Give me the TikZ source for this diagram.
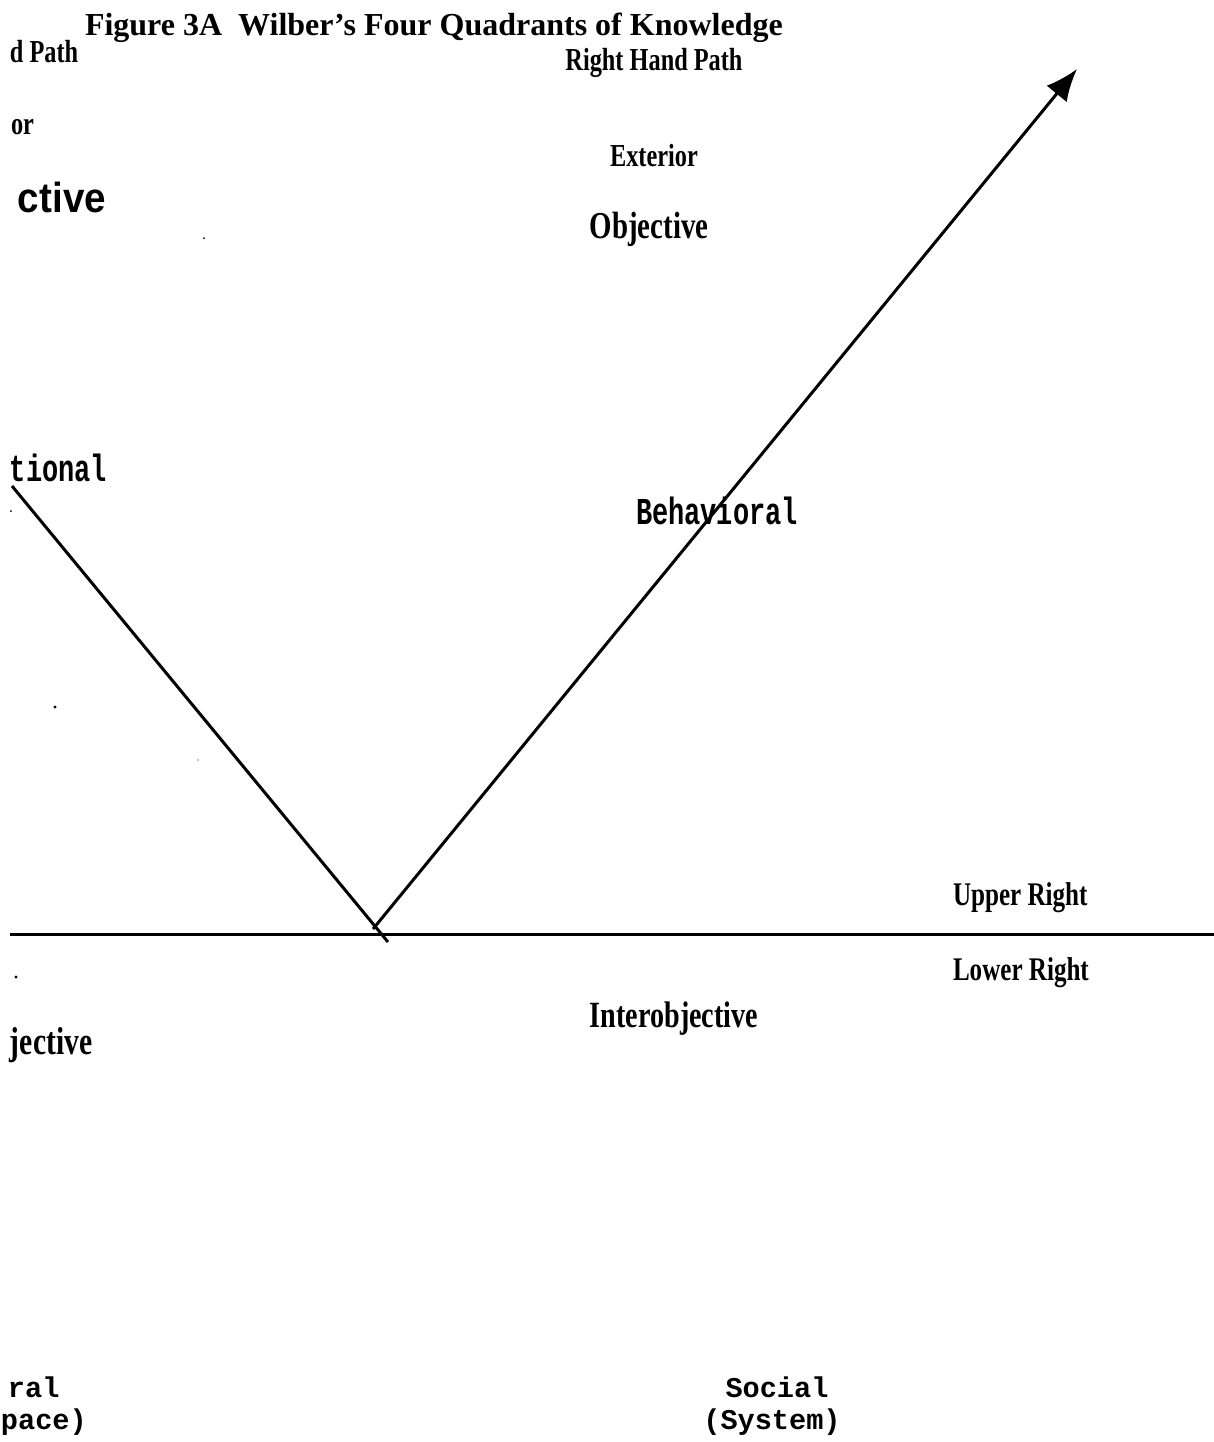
\documentclass[tikz,border=0pt]{standalone}
\usepackage{fontspec}
\usepackage{graphicx}
\setmainfont{Liberation Serif}
\newfontfamily\monof{Liberation Mono}
\newfontfamily\sansf{Liberation Sans}
\usetikzlibrary{arrows.meta}
\tikzset{
  lbl/.style={inner sep=0pt, outer sep=0pt},
  axis/.style={line width=1.5pt, line cap=butt},
  speck/.style={fill=black, draw=none},
}
\newcommand{\cond}[2]{{\bfseries\fontsize{#1}{#1}\selectfont\scalebox{0.76}[1]{#2}}}
\newcommand{\typew}[1]{{\monof\bfseries\fontsize{19pt}{19pt}\selectfont\scalebox{0.71}[1]{#1}}}
\newcommand{\courb}[1]{{\monof\bfseries\fontsize{14.3pt}{14.3pt}\selectfont #1}}
\begin{document}
\begin{tikzpicture}[x=0.5pt, y=-0.5pt]
\useasboundingbox (0,0) rectangle (1214,1442);
% title
\node[lbl, anchor=base west] (title) at (85,35) {\bfseries\fontsize{16pt}{16pt}\selectfont Figure 3A\ \ Wilber's Four Quadrants of Knowledge};
% upper left (cut off)
\node[lbl, anchor=base west] (lhp) at (10,62) {\cond{16pt}{d Path}};
\node[lbl, anchor=base west] (lint) at (11,134) {\cond{16pt}{or}};
\node[lbl, anchor=base west] (lsubj) at (18,212) {{\sansf\bfseries\fontsize{21pt}{21pt}\selectfont\scalebox{0.92}[1]{ctive}}};
\node[lbl, anchor=base west] (lintent) at (10,481) {\typew{tional}};
% upper right
\node[lbl, anchor=base] (rhp) at (654,70) {\cond{16pt}{Right Hand Path}};
\node[lbl, anchor=base] (ext) at (654,166) {\cond{16pt}{Exterior}};
\node[lbl, anchor=base] (obj) at (649,238) {\cond{19pt}{Objective}};
\node[lbl, anchor=base west] (beh) at (636,524) {\typew{Behavioral}};
\node[lbl, anchor=base west] (ur) at (953,905) {\cond{16.5pt}{Upper Right}};
% lower
\node[lbl, anchor=base west] (lr) at (953,980) {\cond{16.5pt}{Lower Right}};
\node[lbl, anchor=base] (interobj) at (674,1027) {\cond{18.5pt}{Interobjective}};
\node[lbl, anchor=base west] (intersubj) at (10,1054) {\cond{19.5pt}{jective}};
\node[lbl, anchor=base west] (cult) at (8,1397) {\courb{ral}};
\node[lbl, anchor=base west] (wsp) at (1,1429) {\courb{pace)}};
\node[lbl, anchor=base] (soc) at (777,1397) {\courb{Social}};
\node[lbl, anchor=base] (sys) at (772,1429) {\courb{(System)}};
% axes
\coordinate (hL) at (10,934);
\coordinate (hR) at (1214,934);
\coordinate (dL1) at (12,486);
\coordinate (dL2) at (388,942);
\coordinate (dR1) at (373,929);
\coordinate (dR2) at (1077,69);
\draw[axis] (hL) -- (hR);
\draw[axis] (dL1) -- (dL2);
\draw[axis, -{Latex[length=16pt, width=13pt]}] (dR1) -- (dR2);
% specks
\fill[speck] (204,238) circle (1.0);
\fill[speck] (55,707) circle (1.6);
\fill[speck] (16,977) circle (1.7);
\fill[speck] (11,511) circle (1.0);
\fill[speck] (198,760) circle (0.6);
\end{tikzpicture}
\end{document}
